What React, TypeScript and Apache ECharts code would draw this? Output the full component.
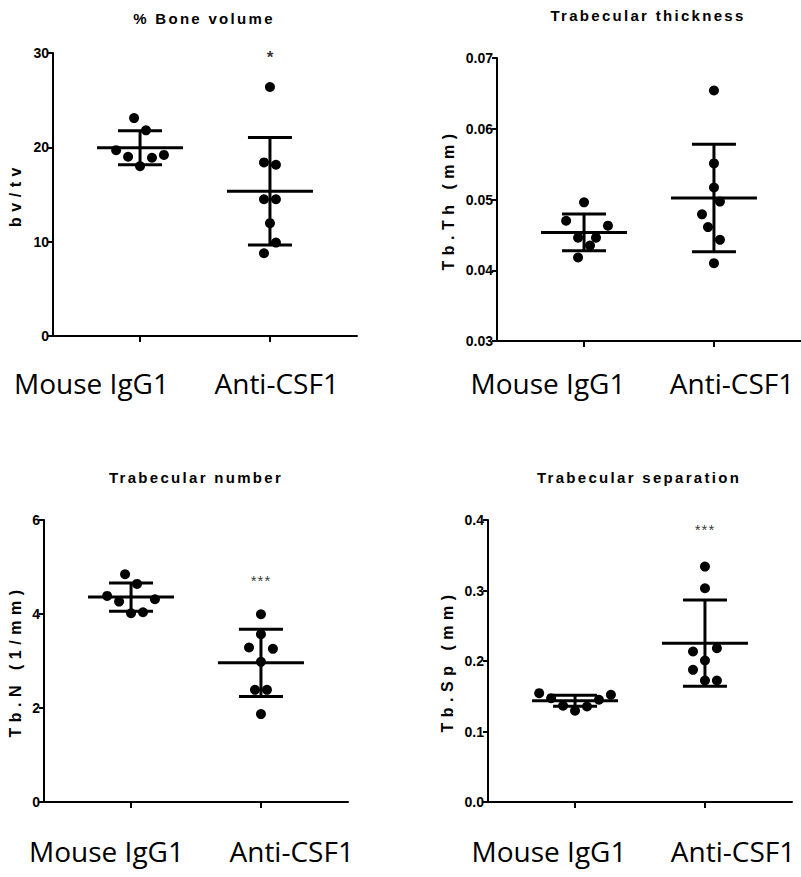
import React, { useEffect, useRef } from "react";
import * as echarts from "echarts";

const groupNames = ["Mouse IgG1", "Anti-CSF1"];

// Panel 1: % Bone volume
const bvIgG = [23.1, 21.8, 19.7, 19.0, 18.0, 18.9, 19.2];
const bvIgGSlot = [-1, 1, -4, -2, 0, 2, 4];
const bvCsf = [26.4, 18.4, 18.15, 14.5, 14.5, 11.96, 9.9, 8.77];
const bvCsfSlot = [0, -1, 1, -1, 1, 0, 1, -1];
const bvMean = [19.95, 15.35];
const bvSd = [1.8, 5.7];

// Panel 2: Trabecular thickness
const thIgG = [0.0496, 0.047, 0.0463, 0.0446, 0.0446, 0.0435, 0.0418];
const thIgGSlot = [0, -3, 4, -1, 2, 1, -1];
const thCsf = [0.0654, 0.0551, 0.0517, 0.0497, 0.0479, 0.0461, 0.0443, 0.041];
const thCsfSlot = [0, 0, 0, 1, -2, -1, 1, 0];
const thMean = [0.04535, 0.0502];
const thSd = [0.0026, 0.0076];

// Panel 3: Trabecular number
const nIgG = [4.845, 4.64, 4.385, 4.264, 4.314, 4.016, 4.038];
const nIgGSlot = [-1, 1, -4, -2, 4, 0, 2];
const nCsf = [3.995, 3.57, 3.287, 3.258, 2.982, 2.387, 2.387, 1.87];
const nCsfSlot = [0, 0, -2, 2, 0, -1, 1, 0];
const nMean = [4.36, 2.961];
const nSd = [0.3, 0.715];

// Panel 4: Trabecular separation
const spIgG = [0.1544, 0.1473, 0.1365, 0.1294, 0.1355, 0.145, 0.1521];
const spIgGSlot = [-6, -4, -2, 0, 2, 4, 6];
const spCsf = [0.3339, 0.3032, 0.2135, 0.2182, 0.2007, 0.1875, 0.1724, 0.1724];
const spCsfSlot = [0, 0, -2, 2, 0, -2, 0, 2];
const spMean = [0.1436, 0.2253];
const spSd = [0.0078, 0.0612];

const titles = ["% Bone volume", "Trabecular thickness", "Trabecular number", "Trabecular separation"];
const yNames = ["bv/tv", "Tb.Th (mm)", "Tb.N (1/mm)", "Tb.Sp (mm)"];
const yMin = [0, 0.03, 0, 0];
const yMax = [30, 0.07, 6, 0.4];
const yInterval = [10, 0.01, 2, 0.1];
const yDecimals = [0, 2, 0, 1];
const stars = ["*", "", "***", "***"];
const starValues = [29.5, 0, 4.72, 0.386];

const panelData = [
  { g: [bvIgG, bvCsf], s: [bvIgGSlot, bvCsfSlot], mean: bvMean, sd: bvSd },
  { g: [thIgG, thCsf], s: [thIgGSlot, thCsfSlot], mean: thMean, sd: thSd },
  { g: [nIgG, nCsf], s: [nIgGSlot, nCsfSlot], mean: nMean, sd: nSd },
  { g: [spIgG, spCsf], s: [spIgGSlot, spCsfSlot], mean: spMean, sd: spSd },
];

// layout (pixels)
const grids = [
  { left: 53, top: 53, width: 304, height: 283 },
  { left: 497, top: 58, width: 304, height: 283 },
  { left: 44, top: 520, width: 304, height: 282 },
  { left: 488, top: 520, width: 304, height: 282 },
];
const nameGaps = [30, 41, 21, 33];
const titlePos = [
  [204, 18],
  [648, 15],
  [196, 477],
  [639, 477],
];
const catLabelPos = [
  [[91.5, 383], [276.7, 383]],
  [[548, 383], [732, 383]],
  [[106.5, 851], [291.7, 851]],
  [[549, 851], [733, 851]],
];

const STEP = 0.046;
const MEAN_HALF = 43;
const CAP_HALF = 22;
const SANS = "'Liberation Sans', Arial, sans-serif";

export default function App() {
  const ref = useRef<HTMLDivElement>(null);

  useEffect(() => {
    if (!ref.current) return;
    const el = ref.current;
    const chart = echarts.init(el, undefined, { renderer: "svg" });

    const xAxes: any[] = [];
    const yAxes: any[] = [];
    const series: any[] = [];
    const graphics: any[] = [];

    grids.forEach((_, i) => {
      xAxes.push({
        gridIndex: i,
        type: "value",
        min: 0.33,
        max: 2.67,
        splitLine: { show: false },
        axisLine: { show: true, onZero: false, lineStyle: { color: "#000", width: 2 } },
        axisTick: { show: true, customValues: [1, 2], length: 6, lineStyle: { color: "#000", width: 2 } },
        axisLabel: { show: false },
      });
      yAxes.push({
        gridIndex: i,
        type: "value",
        min: yMin[i],
        max: yMax[i],
        interval: yInterval[i],
        splitLine: { show: false },
        axisLine: { show: true, onZero: false, lineStyle: { color: "#000", width: 2 } },
        axisTick: { show: true, length: 5, lineStyle: { color: "#000", width: 2 } },
        axisLabel: {
          color: "#000",
          fontFamily: SANS,
          fontWeight: "bold",
          fontSize: 14,
          margin: 4,
          formatter: (v: number) => v.toFixed(yDecimals[i]),
        },
        name: yNames[i],
        nameLocation: "middle",
        nameRotate: 90,
        nameGap: nameGaps[i],
        nameTextStyle: { color: "#000", fontFamily: SANS, fontWeight: "bold", fontSize: 16 },
      });

      const d = panelData[i];
      const pts: number[][] = [];
      d.g.forEach((vals, gi) => {
        vals.forEach((v, k) => pts.push([gi + 1 + d.s[gi][k] * STEP, v]));
      });
      series.push({
        type: "scatter",
        xAxisIndex: i,
        yAxisIndex: i,
        symbol: "circle",
        symbolSize: 10,
        itemStyle: { color: "#000", opacity: 1 },
        data: pts,
        silent: true,
      });
      series.push({
        type: "custom",
        xAxisIndex: i,
        yAxisIndex: i,
        silent: true,
        encode: { x: 0, y: 1 },
        data: d.mean.map((m, gi) => [gi + 1, m, d.sd[gi]]),
        renderItem: (params: any, api: any) => {
          const x = api.value(0);
          const m = api.value(1);
          const s = api.value(2);
          const c = api.coord([x, m]);
          const t = api.coord([x, m + s]);
          const b = api.coord([x, m - s]);
          const style = { stroke: "#000", lineWidth: 3 };
          return {
            type: "group",
            children: [
              { type: "line", shape: { x1: c[0] - MEAN_HALF, y1: c[1], x2: c[0] + MEAN_HALF, y2: c[1] }, style },
              { type: "line", shape: { x1: t[0], y1: t[1], x2: b[0], y2: b[1] }, style },
              { type: "line", shape: { x1: t[0] - CAP_HALF, y1: t[1], x2: t[0] + CAP_HALF, y2: t[1] }, style },
              { type: "line", shape: { x1: b[0] - CAP_HALF, y1: b[1], x2: b[0] + CAP_HALF, y2: b[1] }, style },
            ],
          };
        },
      });
      if (stars[i]) {
        series.push({
          type: "scatter",
          xAxisIndex: i,
          yAxisIndex: i,
          symbolSize: 1,
          itemStyle: { color: "transparent" },
          silent: true,
          data: [[2, starValues[i]]],
          label: {
            show: true,
            position: "inside",
            formatter: stars[i],
            color: "#000",
            textBorderWidth: 0,
            fontFamily: SANS,
            fontWeight: i === 0 ? "bold" : "normal",
            fontSize: i === 0 ? 17 : 15,
          },
        });
      }

      graphics.push({
        type: "text",
        x: titlePos[i][0],
        y: titlePos[i][1],
        style: {
          text: titles[i],
          fill: "#000",
          font: "bold 15px " + SANS,
          textAlign: "center",
          textVerticalAlign: "middle",
        },
      });
      groupNames.forEach((gname, gi) => {
        graphics.push({
          type: "text",
          x: catLabelPos[i][gi][0],
          y: catLabelPos[i][gi][1],
          style: {
            text: gname,
            fill: "#000",
            font: "28px 'Open Sans', 'Noto Sans', sans-serif",
            textAlign: "center",
            textVerticalAlign: "middle",
          },
        });
      });
    });

    chart.setOption({
      animation: false,
      backgroundColor: "#fff",
      grid: grids.map((g) => ({ ...g, containLabel: false, outerBoundsMode: "none" })),
      xAxis: xAxes,
      yAxis: yAxes,
      series,
      graphic: graphics,
    });

    const spacing: Record<string, string> = {};
    titles.forEach((t) => (spacing[t] = "2.3px"));
    yNames.forEach((t) => (spacing[t] = "5.5px"));
    spacing["***"] = "1px";
    const applySpacing = () => {
      el.querySelectorAll("text").forEach((t) => {
        const s = spacing[(t.textContent || "").trim()];
        if (s) t.setAttribute("letter-spacing", s);
      });
    };
    chart.on("finished", applySpacing);
    const timer = setTimeout(applySpacing, 50);

    return () => {
      clearTimeout(timer);
      chart.dispose();
    };
  }, []);

  return (
    <div
      ref={ref}
      style={{ position: "absolute", left: 0, top: 0, width: 801, height: 877, background: "#fff" }}
    />
  );
}
